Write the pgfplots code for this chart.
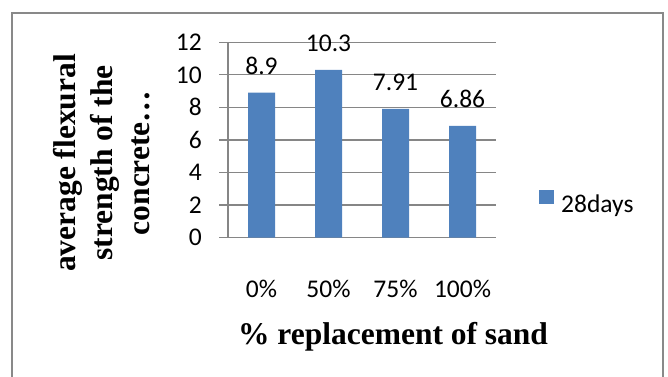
\documentclass[border=0pt]{standalone}
\usepackage{pgfplots}
\pgfplotsset{compat=1.18}
\usepackage{fontspec}
\setmainfont{Carlito}
\newfontfamily\titlefont{Liberation Serif}
\definecolor{barblue}{HTML}{4F81BD}
\definecolor{gridgray}{HTML}{868686}
\definecolor{framegray}{HTML}{898989}

\begin{document}
\begin{tikzpicture}
\useasboundingbox (0pt,0pt) rectangle (668pt,376pt);
% chart frame (bottom edge runs off the page)
\draw[framegray, line width=1.8pt] (12pt,-10pt) rectangle (663pt,363pt);
\begin{axis}[
  at={(228pt,138.5pt)}, anchor=south west,
  scale only axis, width=268pt, height=195.2pt,
  xmin=-0.5, xmax=3.5, ymin=0, ymax=12,
  ytick={0,2,...,12},
  xtick=data, xticklabels={0\%,50\%,75\%,100\%},
  /pgf/number format/assume math mode=true,
  axis x line*=bottom, axis y line*=left,
  axis line style={gridgray, line width=1.2pt},
  ymajorgrids, major grid style={gridgray, line width=1.2pt},
  tick align=outside, major tick length=9pt,
  ytick style={gridgray, line width=1.2pt},
  xtick style={draw=none},
  tick label style={font=\fontsize{25.5}{30}\selectfont, inner sep=0pt},
  yticklabel style={anchor=east, xshift=-17pt},
  xticklabel style={anchor=base, yshift=-50.5pt},
  xlabel={\% replacement of sand},
  xlabel style={font=\titlefont\bfseries\fontsize{31.5}{37}\selectfont,
    at={(axis description cs:0.6157,-0.5456)}, anchor=base},
  ylabel={average flexural\\strength of the\\concrete…},
  ylabel style={font=\titlefont\bfseries\fontsize{31.5}{37}\selectfont,
    align=center, at={(axis description cs:-0.470,0.382)}, anchor=center},
  legend style={draw=none, fill=none, inner sep=0pt,
    at={(axis description cs:1.1604,0.182)}, anchor=west,
    font=\fontsize{25.5}{30}\selectfont,
    nodes={inner sep=0pt},
    /tikz/every odd column/.append style={column sep=7pt}},
  legend image code/.code={\fill[barblue] (0pt,1pt) rectangle (15pt,15pt);},
]
\addplot[ybar, bar width=27pt, fill=barblue, draw=none,
  nodes near coords, point meta=explicit symbolic,
  every node near coord/.append style={font=\fontsize{25.5}{30}\selectfont,
    text=black, inner sep=0pt, anchor=south, yshift=18pt}]
  coordinates {(0,8.9) [8.9] (1,10.3) [10.3] (2,7.91) [7.91] (3,6.86) [6.86]};
\addlegendentry{28days}
\end{axis}
\end{tikzpicture}
\end{document}
